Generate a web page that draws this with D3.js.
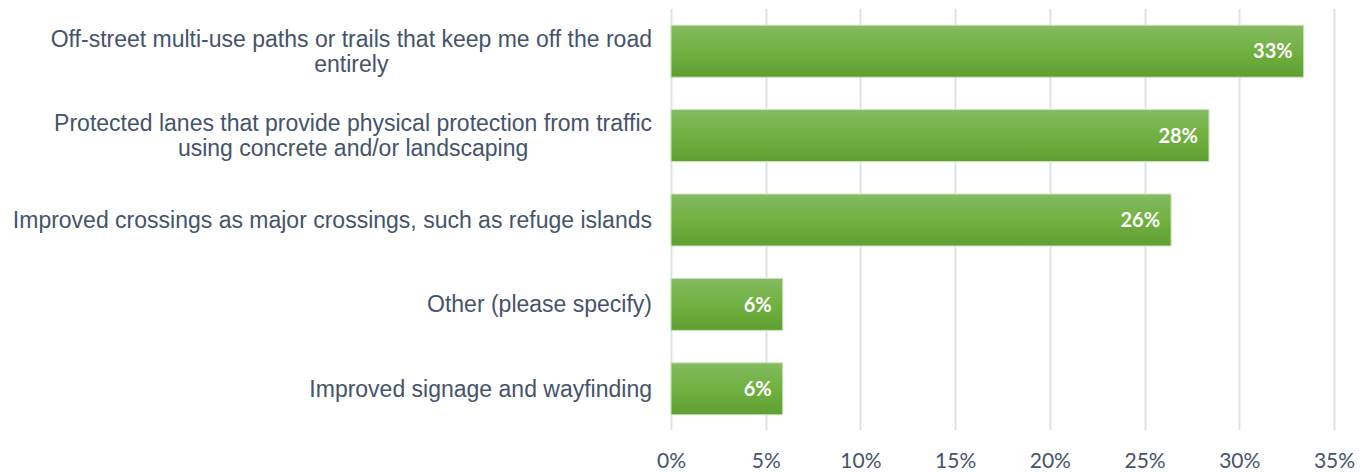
<!DOCTYPE html>
<html>
<head>
<meta charset="utf-8">
<script src="https://cdn.jsdelivr.net/npm/d3@7"></script>
<style>
  html, body { margin: 0; padding: 0; background: #ffffff; }
  svg { display: block; }
</style>
</head>
<body>
<svg id="chart" width="1371" height="472"></svg>
<script>
// Survey answers: preferred bicycle infrastructure improvements (share of respondents, %)
const categories = [
  "Off-street multi-use paths or trails that keep me off the road entirely",
  "Protected lanes that provide physical protection from traffic using concrete and/or landscaping",
  "Improved crossings as major crossings, such as refuge islands",
  "Other (please specify)",
  "Improved signage and wayfinding"
];
const values = [33.4, 28.4, 26.4, 5.9, 5.9];
const tickValues = [0, 5, 10, 15, 20, 25, 30, 35];

const svg = d3.select("#chart");
const plot = { left: 671, right: 1334, top: 9, bottom: 431 };
const textColor = "#44546a";

const x = d3.scaleLinear().domain([0, 35]).range([plot.left, plot.right]);
const y = d3.scaleBand().domain(categories).range([plot.top, plot.bottom])
  .paddingInner(0.384).paddingOuter(0.192);

// bar fill gradient
const defs = svg.append("defs");
const grad = defs.append("linearGradient").attr("id", "barGrad")
  .attr("x1", 0).attr("y1", 0).attr("x2", 0).attr("y2", 1);
grad.append("stop").attr("offset", "0%").attr("stop-color", "#84bb60");
grad.append("stop").attr("offset", "50%").attr("stop-color", "#71b141");
grad.append("stop").attr("offset", "100%").attr("stop-color", "#5f9f31");

// vertical gridlines
svg.append("g").selectAll("line").data(tickValues).join("line")
  .attr("x1", d => Math.round(x(d)) + 0.5).attr("x2", d => Math.round(x(d)) + 0.5)
  .attr("y1", plot.top).attr("y2", plot.bottom - 1)
  .attr("stroke", "#dde1e8").attr("stroke-width", 2);

// x axis tick labels
const xAxis = d3.axisBottom(x).tickValues(tickValues).tickSize(0).tickPadding(0)
  .tickFormat(d => d + "%");
const gx = svg.append("g").attr("transform", `translate(0, ${plot.bottom})`).call(xAxis);
gx.select(".domain").remove();
gx.selectAll("text")
  .attr("dy", null).attr("y", 37)
  .attr("font-family", "Lato, 'Open Sans', sans-serif")
  .attr("font-size", 21).attr("fill", textColor);

// bars
const data = categories.map((c, i) => ({ c, v: values[i] }));
svg.append("g").selectAll("rect").data(data).join("rect")
  .attr("x", x(0))
  .attr("y", d => y(d.c))
  .attr("width", d => x(d.v) - x(0))
  .attr("height", y.bandwidth())
  .attr("fill", "url(#barGrad)")
  .attr("stroke", "#cfe3c0").attr("stroke-width", 1);

// value labels inside the bar ends
svg.append("g").selectAll("text").data(data).join("text")
  .attr("x", d => x(d.v) - 11)
  .attr("y", d => y(d.c) + y.bandwidth() / 2)
  .attr("dy", "0.36em")
  .attr("text-anchor", "end")
  .attr("font-family", "Lato, 'Open Sans', sans-serif")
  .attr("font-weight", "bold")
  .attr("font-size", 20)
  .attr("fill", "#ffffff")
  .text(d => d3.format(".0f")(d.v) + "%");

// category labels: wrapped to the space left of the axis, lines centred in a right-aligned block
const maxLabelWidth = 648;
const labelRight = 652;
const lineHeight = 25;
const labelG = svg.append("g");
categories.forEach(c => {
  const t = labelG.append("text")
    .attr("font-family", "'Liberation Sans', Arial, sans-serif")
    .attr("font-size", 23)
    .attr("fill", textColor);
  const words = c.split(" ");
  const lines = [];
  let line = [];
  const probe = t.append("tspan");
  const measure = s => { probe.text(s); return probe.node().getComputedTextLength(); };
  words.forEach(w => {
    line.push(w);
    if (measure(line.join(" ")) > maxLabelWidth && line.length > 1) {
      line.pop();
      lines.push(line.join(" "));
      line = [w];
    }
  });
  lines.push(line.join(" "));
  const blockWidth = d3.max(lines, measure);
  probe.remove();
  const cx = labelRight - blockWidth / 2;
  const cy = y(c) + y.bandwidth() / 2;
  const y0 = cy - (lines.length - 1) * lineHeight / 2;
  t.attr("text-anchor", "middle");
  lines.forEach((l, i) => {
    t.append("tspan").attr("x", cx).attr("y", y0 + i * lineHeight)
      .attr("dy", "0.35em").text(l);
  });
});
</script>
</body>
</html>
